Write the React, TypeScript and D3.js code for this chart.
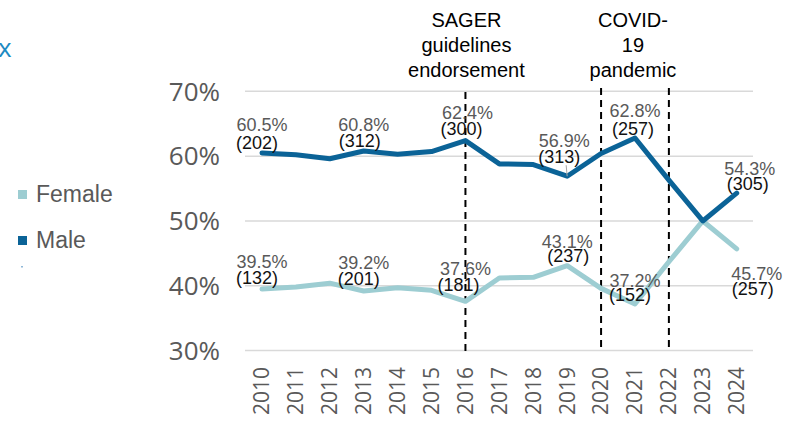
import React from "react";
import * as d3 from "d3";

const years = [2010, 2011, 2012, 2013, 2014, 2015, 2016, 2017, 2018, 2019, 2020, 2021, 2022, 2023, 2024];
const maleValues = [60.5, 60.2, 59.6, 60.8, 60.3, 60.7, 62.4, 58.8, 58.7, 56.9, 60.4, 62.8, 56.3, 50.0, 54.3];
const femaleValues = [39.5, 39.8, 40.4, 39.2, 39.7, 39.3, 37.6, 41.2, 41.3, 43.1, 39.6, 37.2, 43.7, 50.0, 45.7];
const yTicks = [30, 40, 50, 60, 70];

const maleCounts: Record<number, number> = { 2010: 202, 2013: 312, 2016: 300, 2019: 313, 2021: 257, 2024: 305 };
const femaleCounts: Record<number, number> = { 2010: 132, 2013: 201, 2016: 181, 2019: 237, 2021: 152, 2024: 257 };

const eventYears = [2016, 2020, 2022];
const annotations = [
  { year: 2016, lines: ["SAGER", "guidelines", "endorsement"] },
  { year: 2021, lines: ["COVID-", "19", "pandemic"] },
];

// label placement offsets (layout only)
const maleLabelLayout: Record<number, number[]> = {
  2010: [0, -22, -5, -4],
  2013: [0, -20, -4, -4],
  2016: [2, -22, -4, -6],
  2019: [-3, -29, -8, -13],
  2021: [0, -21, -2, -3],
  2024: [13, -18, 11, -3],
};
const femaleLabelLayout: Record<number, number[]> = {
  2010: [0, -21, -5, -5],
  2013: [0, -22, -5, -6],
  2016: [0, -26, -7, -10],
  2019: [0, -18, 1, -4],
  2021: [0, -17, -5, -3],
  2024: [20, 31, 16, 46],
};

const MALE = "#0b6397";
const FEMALE = "#9dcdd2";
const GRAY = "#595959";

export default function App() {
  const W = 800;
  const H = 422;
  const x = d3.scaleLinear().domain([2010, 2024]).range([262, 736.7]);
  const y = d3.scaleLinear().domain([30, 70]).range([350.6, 91.3]);
  const line = d3
    .line<number>()
    .x((_, i) => x(years[i]))
    .y((d) => y(d));

  const labelFont = "'Liberation Sans', Arial, sans-serif";
  const axisFont = "'Open Sans', sans-serif";

  const renderLabels = (vals: number[], counts: Record<number, number>, layout: Record<number, number[]>, key: string) =>
    years.map((yr, i) => {
      if (counts[yr] === undefined) return null;
      const px = x(yr);
      const py = y(vals[i]);
      const [pdx, pdy, cdx, cdy] = layout[yr];
      return (
        <g key={key + yr}>
          {key === "m" && yr === 2019 ? (
            <line x1={px - 1} y1={py + cdy + 2} x2={px} y2={py} stroke="#a6a6a6" strokeWidth={1} />
          ) : null}
          <text x={px + pdx} y={py + pdy} textAnchor="middle" fontSize={18} fill={GRAY} fontFamily={labelFont}>
            {vals[i].toFixed(1) + "%"}
          </text>
          <text x={px + cdx} y={py + cdy} textAnchor="middle" fontSize={18} fill="#111" fontFamily={labelFont}>
            {"(" + counts[yr] + ")"}
          </text>
        </g>
      );
    });

  return (
    <svg width={W} height={H} style={{ position: "absolute", left: 0, top: 0, background: "#fff" }}>
      <rect width={W} height={H} fill="#fff" />
      {/* partial text at top-left */}
      <text x={-2} y={57} fontSize={26} fill="#1c8ac2" fontFamily={axisFont}>
        x
      </text>
      {/* gridlines */}
      {yTicks.map((t) => (
        <line key={"g" + t} x1={245} x2={753} y1={y(t)} y2={y(t)} stroke="#d9d9d9" strokeWidth={1.5} />
      ))}
      {/* y-axis labels */}
      {yTicks.map((t) => (
        <text
          key={"yl" + t}
          x={220}
          y={y(t)}
          dy="0.36em"
          textAnchor="end"
          fontSize={26}
          fill={GRAY}
          fontFamily={axisFont}
        >
          {t + "%"}
        </text>
      ))}
      {/* x-axis labels */}
      {years.map((yr) => (
        <text
          key={"xl" + yr}
          transform={`translate(${x(yr)},367) rotate(-90)`}
          textAnchor="end"
          dy="0.35em"
          fontSize={21}
          fill={GRAY}
          fontFamily={axisFont}
        >
          {yr}
        </text>
      ))}
      {/* event dashed lines */}
      {eventYears.map((yr) => (
        <line
          key={"ev" + yr}
          x1={x(yr)}
          x2={x(yr)}
          y1={yr === 2016 ? 92 : 88}
          y2={351}
          stroke="#000"
          strokeWidth={2}
          strokeDasharray="7,5"
        />
      ))}
      {/* annotations */}
      {annotations.map((a) => (
        <text key={"an" + a.year} textAnchor="middle" fontSize={20} fill="#000" fontFamily={labelFont}>
          {a.lines.map((l, j) => (
            <tspan key={j} x={a.year === 2016 ? x(2016) + 1 : (x(2020) + x(2022)) / 2 - 2} y={27 + j * 25}>
              {l}
            </tspan>
          ))}
        </text>
      ))}
      {/* series lines */}
      <path d={line(femaleValues) || ""} fill="none" stroke={FEMALE} strokeWidth={5} strokeLinejoin="round" strokeLinecap="round" />
      <path d={line(maleValues) || ""} fill="none" stroke={MALE} strokeWidth={5} strokeLinejoin="round" strokeLinecap="round" />
      {/* data labels */}
      {renderLabels(maleValues, maleCounts, maleLabelLayout, "m")}
      {renderLabels(femaleValues, femaleCounts, femaleLabelLayout, "f")}
      {/* legend */}
      <rect x={18} y={190} width={9} height={9} fill={FEMALE} />
      <text x={36} y={202} fontSize={23} fill={GRAY} fontFamily={labelFont}>
        Female
      </text>
      <rect x={18} y={236} width={9} height={9} fill={MALE} />
      <text x={36} y={248} fontSize={23} fill={GRAY} fontFamily={labelFont}>
        Male
      </text>
      <rect x={21} y={266} width={2} height={1.5} fill="#8fb8d8" />
    </svg>
  );
}
